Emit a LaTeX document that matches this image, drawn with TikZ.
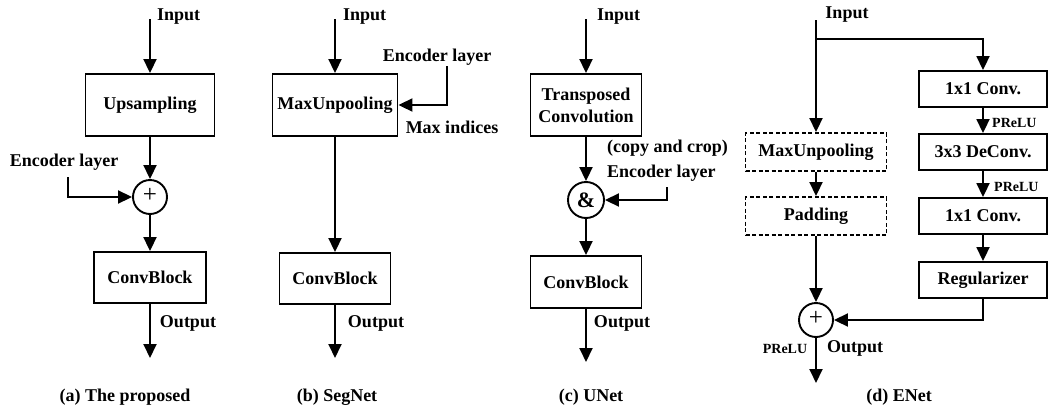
\documentclass[tikz,border=0pt]{standalone}
\usepackage{fontspec}
\setmainfont{Liberation Serif}
\usetikzlibrary{arrows.meta}
\begin{document}
\begin{tikzpicture}[x=1pt,y=-1pt,
  every node/.style={font=\fontsize{18}{22}\selectfont\bfseries, inner sep=0pt},
  wire/.style={line width=1.9pt},
  flow/.style={wire, -{Triangle[length=14pt,width=13pt]}},
  blk/.style={draw, line width=1.9pt, rectangle, align=center},
  dblk/.style={blk, dash pattern=on 4pt off 2.5pt},
  sumc/.style={draw, circle, line width=1.9pt, minimum size=34pt},
  small/.style={font=\fontsize{14}{16}\selectfont\bfseries},
  plus/.style={font=\fontsize{25}{25}\selectfont\mdseries},
]
\useasboundingbox (0,0) rectangle (1049,407);

% ---- (a) proposed decoder block
\coordinate (ain) at (150,19);
\node[anchor=west] (ainl) at (157,17) {Input};
\node[blk, minimum width=129, minimum height=62] (aup) at (150,105) {Upsampling};
\node[sumc] (asum) at (150,197) {};
\node[plus] (asumt) at (150,195) {+};
\node (aencl) at (64,162) {Encoder layer};
\coordinate (aenc) at (68,177);
\node[blk, minimum width=112, minimum height=51] (acb) at (150,277.5) {ConvBlock};
\coordinate (aout) at (150,358);
\node (aoutl) at (188,323) {Output};
\draw[flow] (ain) -- (aup);
\draw[flow] (aup) -- (asum);
\draw[flow] (aenc) |- (asum);
\draw[flow] (asum) -- (acb);
\draw[flow] (acb) -- (aout);
\node (acap) at (125,397) {(a) The proposed};

% ---- (b) SegNet
\coordinate (bin) at (335,19);
\node[anchor=west] (binl) at (343,17) {Input};
\node[blk, minimum width=125, minimum height=62] (bmu) at (335,105) {MaxUnpooling};
\node (bencl) at (437,57) {Encoder layer};
\coordinate (benc) at (447,66);
\node (bidx) at (452,127) {Max indices};
\node[blk, minimum width=111, minimum height=51] (bcb) at (335,278.5) {ConvBlock};
\coordinate (bout) at (335,358);
\node (boutl) at (376,323) {Output};
\draw[flow] (bin) -- (bmu);
\draw[flow] (benc) |- (bmu);
\draw[flow] (bmu) -- (bcb);
\draw[flow] (bcb) -- (bout);
\node (bcap) at (337,397) {(b) SegNet};

% ---- (c) UNet
\coordinate (cin) at (586,19);
\node[anchor=west] (cinl) at (597,17) {Input};
\node[blk, minimum width=111, minimum height=62] (ctc) at (586,105) {Transposed\\Convolution};
\node[sumc, minimum size=36] (ccat) at (586,200) {\fontsize{22}{22}\selectfont\&};
\node[anchor=west] (ccrop) at (607,148) {(copy and crop)};
\node[anchor=west] (cencl) at (607,173) {Encoder layer};
\coordinate (cenc) at (667,187);
\node[blk, minimum width=111, minimum height=52] (ccb) at (586,282) {ConvBlock};
\coordinate (cout) at (586,362);
\node (coutl) at (622,323) {Output};
\draw[flow] (cin) -- (ctc);
\draw[flow] (ctc) -- (ccat);
\draw[flow] (cenc) |- (ccat);
\draw[flow] (ccat) -- (ccb);
\draw[flow] (ccb) -- (cout);
\node (ccap) at (591,397) {(c) UNet};

% ---- (d) ENet
\node (dinl) at (847,15) {Input};
\coordinate (din) at (816,20);
\coordinate (dsplit) at (816,39);
\node[blk, minimum width=128, minimum height=36] (dc1) at (983,89) {1x1 Conv.};
\node[blk, minimum width=128, minimum height=36] (ddc) at (983,152) {3x3 DeConv.};
\node[blk, minimum width=128, minimum height=36] (dc2) at (983,216) {1x1 Conv.};
\node[blk, minimum width=128, minimum height=36] (dreg) at (983,280) {Regularizer};
\node[dblk, minimum width=141, minimum height=38] (dmu) at (816,152) {MaxUnpooling};
\node[dblk, minimum width=141, minimum height=38] (dpad) at (816,216) {Padding};
\node[sumc] (dsum) at (816,320) {};
\node[plus] (dsumt) at (816,318) {+};
\coordinate (dout) at (816,383);
\node[small, anchor=west] (dpr1) at (992,123) {PReLU};
\node[small, anchor=west] (dpr2) at (994,187) {PReLU};
\node[small] (dpr3) at (785,349) {PReLU};
\node (doutl) at (855,348) {Output};
\draw[wire] (din) -- (dsplit);
\draw[flow] (dsplit) -| (dc1);
\draw[flow] (dsplit) -- (dmu);
\draw[flow] (dmu) -- (dpad);
\draw[flow] (dpad) -- (dsum);
\draw[flow] (dc1) -- (ddc);
\draw[flow] (ddc) -- (dc2);
\draw[flow] (dc2) -- (dreg);
\draw[flow] (dreg) |- (dsum);
\draw[flow] (dsum) -- (dout);
\node (dcap) at (899,397) {(d) ENet};
\end{tikzpicture}
\end{document}
